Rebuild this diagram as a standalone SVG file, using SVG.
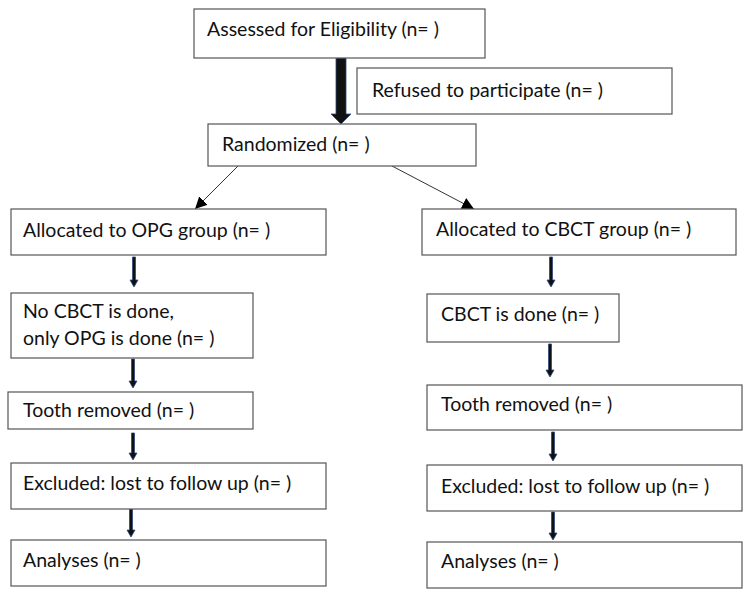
<svg xmlns="http://www.w3.org/2000/svg" width="750" height="596" viewBox="0 0 750 596">
<defs>
<style>
.box{fill:#fff;stroke:#555;stroke-width:1.2}
.t{font-family:Lato,"Liberation Sans",sans-serif;font-size:19.5px;fill:#111}
.thin{stroke:#333;stroke-width:1;fill:none}
.dn{fill:#111;stroke:#2c4a80;stroke-width:0.8}
</style>
<marker id="ah" viewBox="0 0 10 10" refX="10" refY="5" markerWidth="12" markerHeight="12" markerUnits="userSpaceOnUse" orient="auto">
<path d="M0,0 L10,5 L0,10 z" fill="#000"/>
</marker>
</defs>
<rect width="750" height="596" fill="#fff"/>
<g id="connectors">
<path class="dn" d="M336,58 H346 V114 H351 L341,124 L331,114 H336 Z"/>
<line class="thin" x1="238" y1="166" x2="195" y2="209" marker-end="url(#ah)"/>
<line class="thin" x1="392" y1="166" x2="474" y2="209" marker-end="url(#ah)"/>
<path class="dn" d="M132.5,257 H135.5 V280 H138 L134,287 L130,280 H132.5 Z"/>
<path class="dn" d="M549.5,257 H552.5 V280 H555 L551,287 L547,280 H549.5 Z"/>
<path class="dn" d="M131.5,359 H134.5 V381 H137 L133,388 L129,381 H131.5 Z"/>
<path class="dn" d="M131.5,433 H134.5 V453 H137 L133,460 L129,453 H131.5 Z"/>
<path class="dn" d="M129.5,509 H132.5 V530 H135 L131,537 L127,530 H129.5 Z"/>
<path class="dn" d="M548.5,344 H551.5 V370 H554 L550,377 L546,370 H548.5 Z"/>
<path class="dn" d="M551.5,432 H554.5 V454 H557 L553,461 L549,454 H551.5 Z"/>
<path class="dn" d="M551.5,512 H554.5 V533 H557 L553,540 L549,533 H551.5 Z"/>
</g>
<g id="assessed"><rect class="box" x="194" y="9" width="291" height="49"/><text class="t" x="207" y="36">Assessed for Eligibility (n= )</text></g>
<g id="refused"><rect class="box" x="357" y="68" width="315" height="46"/><text class="t" x="372" y="97">Refused to participate (n= )</text></g>
<g id="randomized"><rect class="box" x="208" y="124" width="268" height="42"/><text class="t" x="222" y="151">Randomized (n= )</text></g>
<g id="alloc-opg"><rect class="box" x="11" y="209" width="315" height="46"/><text class="t" x="23" y="237">Allocated to OPG group (n= )</text></g>
<g id="alloc-cbct"><rect class="box" x="422" y="209" width="314" height="46"/><text class="t" x="436" y="236">Allocated to CBCT group (n= )</text></g>
<g id="no-cbct"><rect class="box" x="11" y="293" width="242" height="65"/><text class="t" x="23" y="318">No CBCT is done,</text><text class="t" x="23" y="345">only OPG is done (n= )</text></g>
<g id="cbct-done"><rect class="box" x="427" y="294" width="192" height="48"/><text class="t" x="441" y="321">CBCT is done (n= )</text></g>
<g id="tooth-left"><rect class="box" x="8" y="392" width="245" height="37"/><text class="t" x="23" y="417">Tooth removed (n= )</text></g>
<g id="tooth-right"><rect class="box" x="427" y="385" width="315" height="45"/><text class="t" x="441" y="411">Tooth removed (n= )</text></g>
<g id="excl-left"><rect class="box" x="11" y="463" width="315" height="46"/><text class="t" x="23" y="490">Excluded: lost to follow up (n= )</text></g>
<g id="excl-right"><rect class="box" x="427" y="465" width="315" height="46"/><text class="t" x="441" y="493">Excluded: lost to follow up (n= )</text></g>
<g id="anal-left"><rect class="box" x="11" y="540" width="315" height="46"/><text class="t" x="23" y="567">Analyses (n= )</text></g>
<g id="anal-right"><rect class="box" x="427" y="542" width="315" height="46"/><text class="t" x="441" y="568">Analyses (n= )</text></g>
</svg>
